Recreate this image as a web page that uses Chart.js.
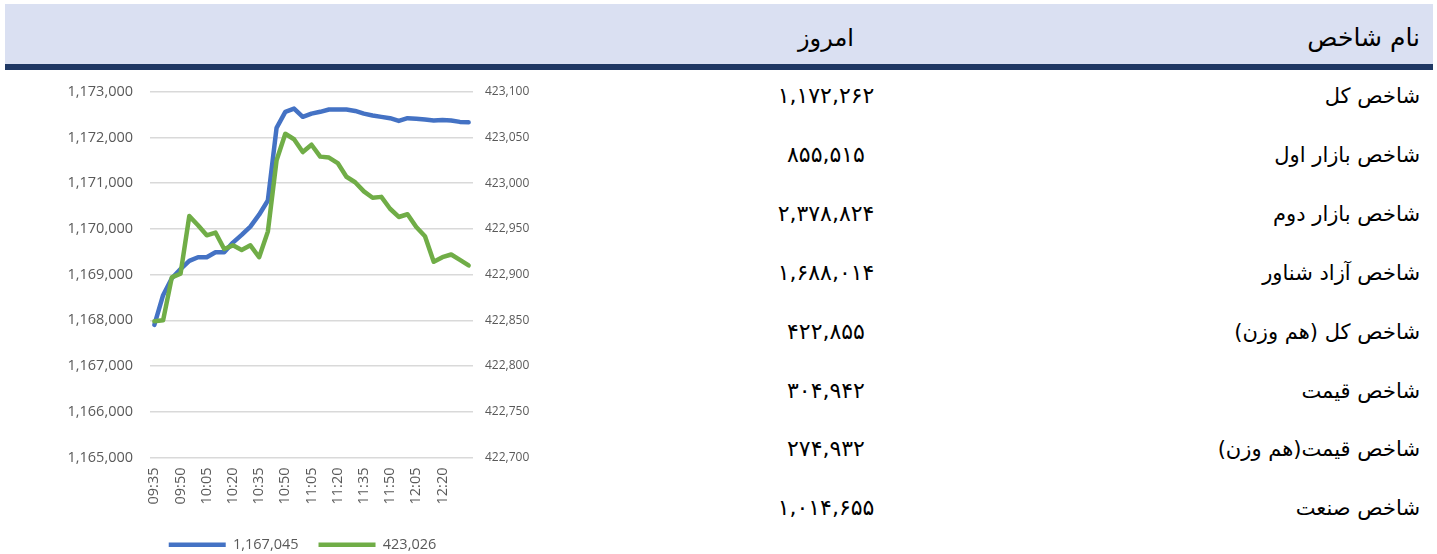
<!DOCTYPE html>
<html lang="fa">
<head>
<meta charset="utf-8">
<script src="https://cdn.jsdelivr.net/npm/chart.js@4.4.0/dist/chart.umd.min.js"></script>
<style>
  html, body { margin: 0; padding: 0; width: 1437px; height: 554px; overflow: hidden; background: #ffffff; }
  #band { position: absolute; left: 5px; top: 4px; width: 1428px; height: 60px; background: #dae0f2; }
  #bar { position: absolute; left: 5px; top: 64px; width: 1428px; height: 6px; background: #1f3864; }
  .fa { position: absolute; font-family: "DejaVu Sans", sans-serif; color: #000; white-space: nowrap; }
  .name { direction: rtl; text-align: right; right: 17px; width: 400px; font-size: 21px; }
  .val { direction: ltr; text-align: center; left: 726px; width: 200px; font-size: 22px; }
  #chartBox { position: absolute; left: 0px; top: 66px; width: 605px; height: 496px; }
</style>
</head>
<body>
<div id="band"></div>
<div id="bar"></div>
<div id="table"></div>
<div id="chartBox"><canvas id="c"></canvas></div>
<script>
// ---- data ----
const headerName = "نام شاخص";
const headerToday = "امروز";
const indexNames = ["شاخص کل", "شاخص بازار اول", "شاخص بازار دوم", "شاخص آزاد شناور", "شاخص کل (هم وزن)", "شاخص قیمت", "شاخص قیمت(هم وزن)", "شاخص صنعت"];
const indexValues = [1172262, 855515, 2378824, 1688014, 422855, 304942, 274932, 1014655];

const times = ["09:35","09:40","09:45","09:50","09:55","10:00","10:05","10:10","10:15","10:20","10:25","10:30","10:35","10:40","10:45","10:50","10:55","11:00","11:05","11:10","11:15","11:20","11:25","11:30","11:35","11:40","11:45","11:50","11:55","12:00","12:05","12:10","12:15","12:20","12:25","12:30","12:35"];
const totalIndex = [1167900,1168550,1168920,1169120,1169300,1169380,1169380,1169490,1169490,1169700,1169870,1170050,1170310,1170620,1172210,1172560,1172630,1172450,1172520,1172560,1172610,1172610,1172610,1172580,1172520,1172480,1172450,1172420,1172360,1172420,1172410,1172390,1172370,1172380,1172370,1172340,1172330];
const equalWeightIndex = [422849,422850,422897,422901,422964,422954,422943,422946,422928,422932,422927,422932,422919,422947,423025,423054,423048,423034,423042,423029,423028,423022,423007,423001,422991,422984,422985,422972,422963,422966,422952,422942,422914,422919,422922,422916,422910];
const seriesLabels = ["1,167,045", "423,026"];
const leftTicks = {min: 1165000, max: 1173000, step: 1000};
const rightTicks = {min: 422700, max: 423100, step: 50};

// ---- table ----
const faDigits = "۰۱۲۳۴۵۶۷۸۹";
function toFa(n) { return n.toLocaleString("en-US").replace(/[0-9]/g, d => faDigits[+d]); }
const table = document.getElementById("table");
function addText(cls, text, cy) {
  const d = document.createElement("div");
  d.className = "fa " + cls;
  d.textContent = text;
  d.style.top = (cy - 15) + "px";
  d.style.height = "30px";
  d.style.lineHeight = "30px";
  table.appendChild(d);
  return d;
}
addText("name", headerName, 38).style.fontSize = "25px";
addText("val", headerToday, 38).style.fontSize = "24px";
indexNames.forEach((n, i) => {
  const cy = 96 + i * 58.9;
  addText("name", n, cy);
  addText("val", toFa(indexValues[i]), cy);
});

// ---- chart ----
const tickColor = "#595959";
const font = {family: "'Open Sans'", size: 14.5};
new Chart(document.getElementById("c"), {
  type: "line",
  data: {
    labels: times,
    datasets: [
      {label: seriesLabels[0], data: totalIndex, yAxisID: "y", borderColor: "#4472c4", backgroundColor: "#4472c4",
       borderWidth: 4.5, pointRadius: 0, tension: 0, borderJoinStyle: "round", borderCapStyle: "round", order: 1},
      {label: seriesLabels[1], data: equalWeightIndex, yAxisID: "y1", borderColor: "#70ad47", backgroundColor: "#70ad47",
       borderWidth: 4.5, pointRadius: 0, tension: 0, borderJoinStyle: "round", borderCapStyle: "round", order: 0}
    ]
  },
  options: {
    responsive: true, maintainAspectRatio: false, animation: false,
    layout: {padding: {top: 0, bottom: 0, left: 0, right: 0}},
    plugins: {
      tooltip: {enabled: false},
      legend: {
        position: "bottom",
        labels: {usePointStyle: true, pointStyle: "line", pointStyleWidth: 57, padding: 20, color: tickColor, font: font,
                 sort: (a, b) => a.datasetIndex - b.datasetIndex}
      }
    },
    scales: {
      x: {
        offset: true,
        grid: {display: false, drawTicks: false},
        border: {display: false},
        ticks: {autoSkip: false, maxRotation: 90, minRotation: 90, padding: 10, color: tickColor, font: font,
                callback: function(v, i) { return (i % 3 === 0 && i < times.length - 1) ? times[i] : ""; }},
        afterFit: s => { s.height = 60; }
      },
      y: {
        position: "left", min: leftTicks.min, max: leftTicks.max,
        grid: {color: "#d9d9d9", lineWidth: 1.5, drawTicks: false},
        border: {display: false},
        ticks: {stepSize: leftTicks.step, padding: 17, color: tickColor, font: font,
                callback: v => v.toLocaleString("en-US")},
        afterFit: s => { s.width = 150; }
      },
      y1: {
        position: "right", min: rightTicks.min, max: rightTicks.max,
        grid: {drawOnChartArea: false, drawTicks: false},
        border: {display: false},
        ticks: {stepSize: rightTicks.step, padding: 12, color: tickColor, font: {family: "'Open Sans'", size: 12},
                callback: v => v.toLocaleString("en-US")},
        afterFit: s => { s.width = 132; }
      }
    }
  }
});
</script>
</body>
</html>
